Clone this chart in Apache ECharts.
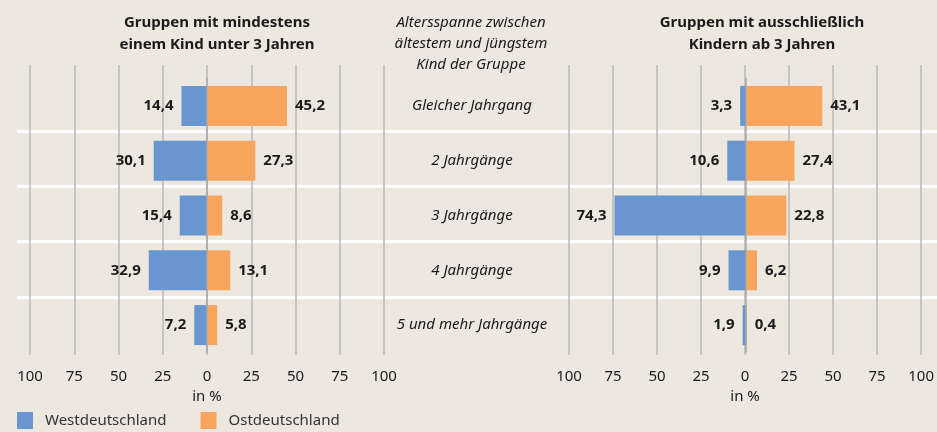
<!DOCTYPE html>
<html>
<head>
<meta charset="utf-8">
<style>
  html, body { margin: 0; padding: 0; background: #ece8df; }
  #chart { width: 937px; height: 432px; }
</style>
<script src="https://cdn.jsdelivr.net/npm/echarts@6/dist/echarts.min.js"></script>
</head>
<body>
<div id="chart"></div>
<script>
// Kategorien (von oben nach unten)
var categories = ['Gleicher Jahrgang', '2 Jahrgänge', '3 Jahrgänge', '4 Jahrgänge', '5 und mehr Jahrgänge'];
// Gruppen mit mindestens einem Kind unter 3 Jahren
var westU3 = [14.4, 30.1, 15.4, 32.9, 7.2];
var ostU3 = [45.2, 27.3, 8.6, 13.1, 5.8];
// Gruppen mit ausschliesslich Kindern ab 3 Jahren
var westUe3 = [3.3, 10.6, 74.3, 9.9, 1.9];
var ostUe3 = [43.1, 27.4, 22.8, 6.2, 0.4];
var tickLabels = [-100, -75, -50, -25, 0, 25, 50, 75, 100];

var BLUE = '#6a96d0';
var ORANGE = '#f9a55e';
var GRID_GRAY = '#b9b9b9';
var TEXT = '#1a1a1a';
var FONT = '"Noto Sans", sans-serif';

var fmt = function (v) {
    return Math.abs(v).toFixed(1).replace('.', ',');
};
var neg = function (arr) {
    return arr.map(function (v) { return -v; });
};

var chart = echarts.init(document.getElementById('chart'), null, { renderer: 'canvas' });

// Raster (Gitterlinien + Achsenbeschriftung)
var rasterX = function (idx) {
    return {
        gridIndex: idx, type: 'value', min: -100, max: 100, interval: 25,
        name: 'in %', nameLocation: 'middle', nameGap: 30,
        nameTextStyle: { fontFamily: FONT, fontSize: 15, color: TEXT },
        axisLine: { show: false }, axisTick: { show: false },
        axisLabel: {
            margin: 14, fontFamily: FONT, fontSize: 15, color: TEXT,
            formatter: function (v) { return tickLabels.indexOf(v) >= 0 ? Math.abs(v) : ''; }
        },
        splitLine: { show: true, lineStyle: { color: GRID_GRAY, width: 1.5 } }
    };
};
var barX = function (idx) {
    return { gridIndex: idx, type: 'value', min: -100, max: 100, show: false };
};
var barY = function (idx) {
    return {
        gridIndex: idx, type: 'category', data: categories, inverse: true, z: 5,
        axisLine: { show: true, onZero: true, lineStyle: { color: '#a8a8a8', width: 1.5 } },
        axisTick: { show: false }, axisLabel: { show: false }
    };
};
var labelStyle = function (pos) {
    return {
        show: true, position: pos, distance: 8,
        fontFamily: FONT, fontSize: 15, fontWeight: 'bold', color: TEXT,
        formatter: function (p) { return fmt(p.value); }
    };
};
var bar = function (name, data, axisIdx, color, pos) {
    return {
        name: name, type: 'bar', xAxisIndex: axisIdx, yAxisIndex: axisIdx,
        data: data, barWidth: 40, barGap: '-100%',
        itemStyle: { color: color },
        label: labelStyle(pos),
        emphasis: { disabled: true }
    };
};

var option = {
    backgroundColor: '#ece8df',
    animation: false,
    textStyle: { fontFamily: FONT },
    title: [
        {
            text: 'Gruppen mit mindestens\neinem Kind unter 3 Jahren',
            left: 212, top: 7, textAlign: 'center',
            textStyle: { fontFamily: FONT, fontSize: 15, fontWeight: 'bold', color: TEXT, lineHeight: 22 }
        },
        {
            text: 'Altersspanne zwischen\nältestem und jüngstem\nKind der Gruppe',
            left: 466, top: 7, textAlign: 'center',
            textStyle: { fontFamily: FONT, fontSize: 15, fontStyle: 'italic', fontWeight: 'normal', color: TEXT, lineHeight: 21 }
        },
        {
            text: 'Gruppen mit ausschließlich\nKindern ab 3 Jahren',
            left: 757, top: 7, textAlign: 'center',
            textStyle: { fontFamily: FONT, fontSize: 15, fontWeight: 'bold', color: TEXT, lineHeight: 22 }
        }
    ],
    legend: {
        data: ['Westdeutschland', 'Ostdeutschland'],
        left: 17, top: 412, padding: 0, icon: 'rect', itemWidth: 16, itemHeight: 17, itemGap: 34,
        textStyle: { fontFamily: FONT, fontSize: 15, color: '#333', padding: [0, 0, 0, 7] },
        selectedMode: false
    },
    grid: [
        { left: 17, right: 0, top: 76, height: 276 },   // 0 Trennlinien
        { left: 30, width: 354, top: 65, height: 290 },  // 1 Raster links
        { left: 569, width: 354, top: 65, height: 290 }, // 2 Raster rechts
        { left: 30, width: 354, top: 78.5, height: 274 },  // 3 Balken links
        { left: 569, width: 354, top: 78.5, height: 274 }, // 4 Balken rechts
        { left: 384, width: 185, top: 78.5, height: 274 }  // 5 Kategorien
    ],
    xAxis: [
        { gridIndex: 0, type: 'value', min: 0, max: 1, show: false },
        rasterX(1),
        rasterX(2),
        barX(3),
        barX(4),
        { gridIndex: 5, type: 'value', min: 0, max: 1, show: false }
    ],
    yAxis: [
        {
            gridIndex: 0, type: 'value', min: 0, max: 5, interval: 1, inverse: true,
            axisLine: { show: false }, axisTick: { show: false }, axisLabel: { show: false },
            splitLine: { show: true, showMinLine: false, showMaxLine: false, lineStyle: { color: '#ffffff', width: 3 } }
        },
        { gridIndex: 1, type: 'value', min: 0, max: 1, show: false },
        { gridIndex: 2, type: 'value', min: 0, max: 1, show: false },
        barY(3),
        barY(4),
        {
            gridIndex: 5, type: 'category', data: categories, inverse: true,
            axisLine: { show: false }, axisTick: { show: false },
            axisLabel: {
                align: 'center', margin: -88,
                fontFamily: FONT, fontSize: 15, fontStyle: 'italic', color: TEXT
            }
        }
    ],
    series: [
        bar('Westdeutschland', neg(westU3), 3, BLUE, 'left'),
        bar('Ostdeutschland', ostU3, 3, ORANGE, 'right'),
        bar('Westdeutschland', neg(westUe3), 4, BLUE, 'left'),
        bar('Ostdeutschland', ostUe3, 4, ORANGE, 'right')
    ]
};

chart.setOption(option);
</script>
</body>
</html>
